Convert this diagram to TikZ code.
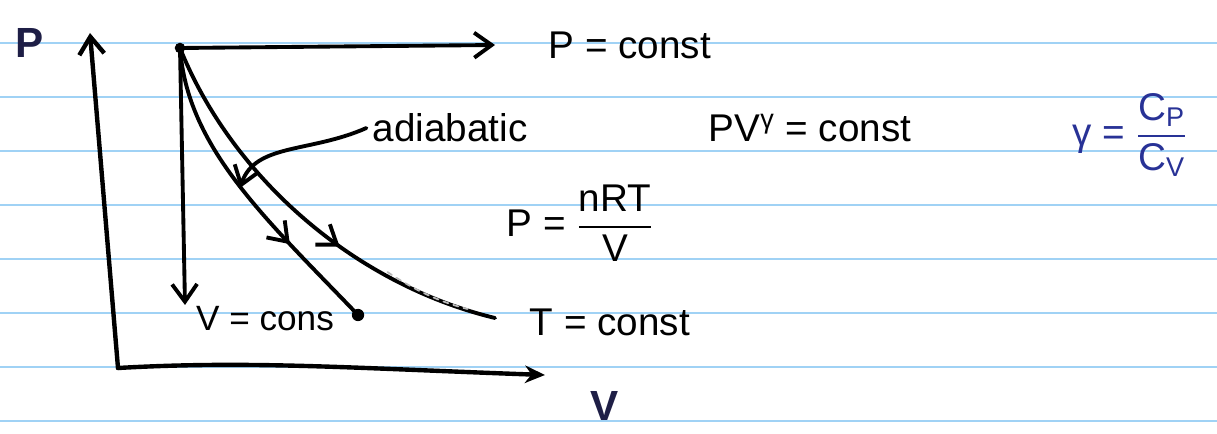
\documentclass[tikz,border=0pt]{standalone}
\usepackage{amsmath}
\usepackage{fontspec}
\setmainfont{Liberation Sans}
\usetikzlibrary{arrows.meta,calc,positioning,decorations.markings}
\definecolor{ruleblue}{RGB}{160,210,245}
\definecolor{inkblue}{RGB}{40,50,150}
\definecolor{axisink}{RGB}{30,30,70}

\begin{document}
\begin{tikzpicture}[scale=1.0,>={Straight Barb[length=3.5mm,width=5mm]},line join=round,line cap=round,font=\fontsize{22}{26}\selectfont,
  ink/.style={line width=2.2pt},
  midarrow/.style={postaction={decorate,decoration={markings,mark=at position #1 with {\arrow{Straight Barb[length=3.5mm,width=5mm]}}}}}]
\useasboundingbox (0,0) rectangle (24.34,8.66);
% ruled paper
\foreach \k in {0,...,7} \draw[ruleblue,line width=1.3pt] (0,{7.80-1.08*\k}) -- (24.34,{7.80-1.08*\k});
% axes
\coordinate (O) at (2.36,1.30);
\coordinate (ytop) at (1.80,8.00);
\coordinate (xend) at (10.90,1.16);
\draw[ink,line width=2.5pt,->] (O) -- (ytop);
\draw[ink,line width=2.5pt,-{Stealth[length=4mm,width=3.5mm]}] (O) .. controls (5.0,1.45) and (7.0,1.30) .. (xend);
\node[axisink,font=\fontsize{24}{28}\bfseries] (Plab) at (0.60,7.80) {P};
\node[axisink,font=\fontsize{24}{28}\bfseries] (Vlab) at (12.10,0.55) {V};
% state point and the four processes
\coordinate (S) at (3.60,7.70);
\coordinate (isoP) at (9.90,7.76);
\coordinate (isoV) at (3.70,2.56);
\coordinate (adEnd) at (7.16,2.36);
\coordinate (isoTend) at (9.90,2.30);
\fill (S) circle (3pt);
\draw[ink,->] (S) -- (isoP);
\draw[ink,->] (S) -- (isoV);
\draw[ink,midarrow=0.7] (S) .. controls (3.75,5.7) and (5.3,4.3) .. (adEnd);
\fill (adEnd) circle (3.5pt);
\draw[ink,midarrow=0.6] (S) .. controls (4.6,5.2) and (7.0,3.0) .. (isoTend);
% faint pencil dashes beside the isotherm
\draw[gray!55,dashed,line width=1pt] (7.75,3.22) .. controls (8.3,2.85) and (8.8,2.62) .. (9.35,2.48);
% labels
\node[anchor=west] (lblP) at (10.85,7.76) {P = const};
\node[font=\fontsize{20}{24}\selectfont] (lblV) at (5.30,2.28) {V = cons};
\node (lblT) at (12.20,2.22) {T = const};
\node (lblAd) at (9.00,6.10) {adiabatic};
\coordinate (adHit) at (4.80,4.90);
\draw[ink,->] (lblAd.west) .. controls (6.2,5.6) and (5.1,5.8) .. (adHit);
\node (lblPVg) at (16.20,6.10) {PV\textsuperscript{γ} = const};
\node (lblIdeal) at (11.60,4.20) {P = $\dfrac{\text{nRT}}{\text{V}}$};
\node[inkblue] (lblGam) at (22.60,5.96) {γ = $\dfrac{\text{C}_\text{P}}{\text{C}_\text{V}}$};
\end{tikzpicture}
\end{document}
